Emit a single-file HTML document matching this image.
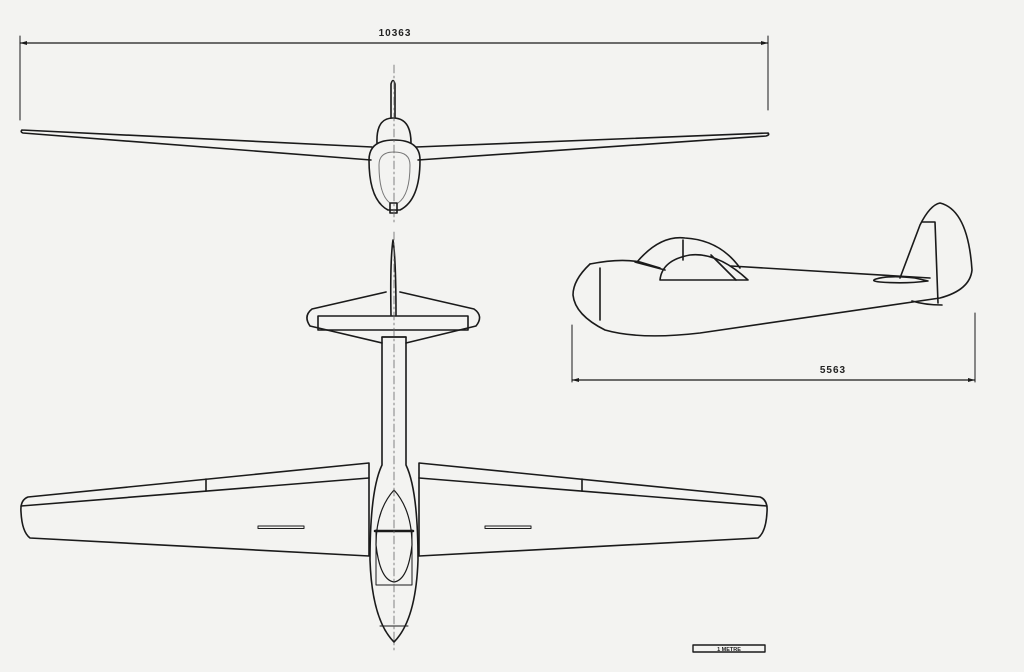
<!DOCTYPE html>
<html><head><meta charset="utf-8"><style>
html,body{margin:0;padding:0;background:#f3f3f1;}
svg{display:block}
text{font-family:"Liberation Sans",sans-serif;font-weight:bold;fill:#222}
</style></head><body>
<svg width="1024" height="672" viewBox="0 0 1024 672" xmlns="http://www.w3.org/2000/svg">
<rect width="1024" height="672" fill="#f3f3f1"/>
<g stroke="#1a1a1a" stroke-width="1.6" fill="none" stroke-linejoin="round" stroke-linecap="round">
<line x1="20" y1="43" x2="768" y2="43" stroke-width="1.2"/>
<line x1="20" y1="36" x2="20" y2="120" stroke-width="1"/>
<line x1="768" y1="36" x2="768" y2="110" stroke-width="1"/>
<path d="M391,118 L391,84 Q393,77 395,84 L395,118"/>
<path d="M377,143 Q376,118 393,118 Q411,118 411,143"/>
<path d="M22,130 L372,147 M22,130 Q20,132 23,133 L371,160"/>
<path d="M768,133 L416,147 M768,133 Q770,135 766,136 L418,160"/>
<path d="M394,140 Q420,140 420,160 Q420,200 400,210 L388,210 Q369,200 369,160 Q369,140 394,140Z"/>
<path d="M394,152 Q410,152 410,165 Q410,195 398,203 L390,203 Q379,195 379,165 Q379,152 394,152Z" stroke="#777" stroke-width="1"/>
<rect x="390" y="203" width="7" height="10"/>
<line x1="394" y1="65" x2="394" y2="225" stroke="#666" stroke-width="0.8" stroke-dasharray="8,3,2,3"/>
<path d="M391,315 Q390,260 393,240 Q396,260 396,315"/>
<path d="M386,292 L312,309 Q303,316 310,326 L382,343 M400,292 L474,309 Q484,316 476,326 L406,343"/>
<path d="M318,316 L468,316 L468,330 L318,330Z"/>
<path d="M382,337 L382,465 Q370,490 370,560 Q372,620 394,642 Q416,620 418,560 Q418,490 406,465 L406,337 Z"/>
<line x1="382" y1="337" x2="406" y2="337"/>
<path d="M394,490 Q376,510 376,545 Q380,580 394,582 Q408,580 412,545 Q412,510 394,490Z" stroke-width="1.2"/>
<path d="M376,530 L376,585 L412,585 L412,530" stroke-width="1"/>
<line x1="375" y1="531" x2="413" y2="531" stroke-width="2.5"/>
<line x1="380" y1="626" x2="408" y2="626" stroke-width="1"/>
<!-- left wing -->
<path d="M369,463 L28,497 Q20,500 21,512 Q22,532 30,538 L369,556 Z"/>
<path d="M369,478 L21,506"/>
<line x1="206" y1="479" x2="206" y2="491"/>
<rect x="258" y="526" width="46" height="2.5" stroke-width="1"/>
<!-- right wing -->
<path d="M419,463 L760,497 Q768,500 767,512 Q766,532 758,538 L419,556 Z"/>
<path d="M419,478 L767,506"/>
<line x1="582" y1="479" x2="582" y2="491"/>
<rect x="485" y="526" width="46" height="2.5" stroke-width="1"/>
<line x1="394" y1="232" x2="394" y2="650" stroke="#666" stroke-width="0.8" stroke-dasharray="8,3,2,3"/>
<!-- side view -->
<path d="M590,264 Q573,280 573,295 Q575,315 605,330 Q640,340 700,333 L940,298 Q970,290 972,270 Q968,210 940,203 Q930,205 920,225 L900,278"/>
<path d="M590,264 Q620,258 640,262 L660,268"/>
<path d="M600,268 L600,320"/>
<path d="M635,262 L665,270 M637,262 Q660,235 685,238 Q720,240 740,268"/>
<line x1="683" y1="240" x2="683" y2="260"/>
<path d="M660,280 Q662,260 690,255 Q718,252 748,280 Z"/>
<path d="M711,255 L736,280"/>
<path d="M731,266 L930,278"/>
<path d="M876,279 Q890,275 915,278 L928,281 Q905,284 880,282 Q870,281 876,279Z"/>
<path d="M922,222 L935,222 L938,303"/>
<path d="M912,301 Q925,305 942,305"/>
<line x1="572" y1="380" x2="975" y2="380" stroke-width="1.2"/>
<line x1="572" y1="325" x2="572" y2="382" stroke-width="1"/>
<line x1="975" y1="313" x2="975" y2="382" stroke-width="1"/>
<rect x="693" y="645" width="72" height="7" stroke-width="1.4"/>
</g>
<path d="M20,43 l7,-2 v4z M768,43 l-7,-2 v4z M572,380 l7,-2 v4z M975,380 l-7,-2 v4z" fill="#1a1a1a"/>
<text x="395" y="36" font-size="10" text-anchor="middle" letter-spacing="1">10363</text>
<text x="833" y="373" font-size="10" text-anchor="middle" letter-spacing="1">5563</text>
<text x="729" y="651" font-size="5.5" text-anchor="middle">1 METRE</text>
</svg>
</body></html>
